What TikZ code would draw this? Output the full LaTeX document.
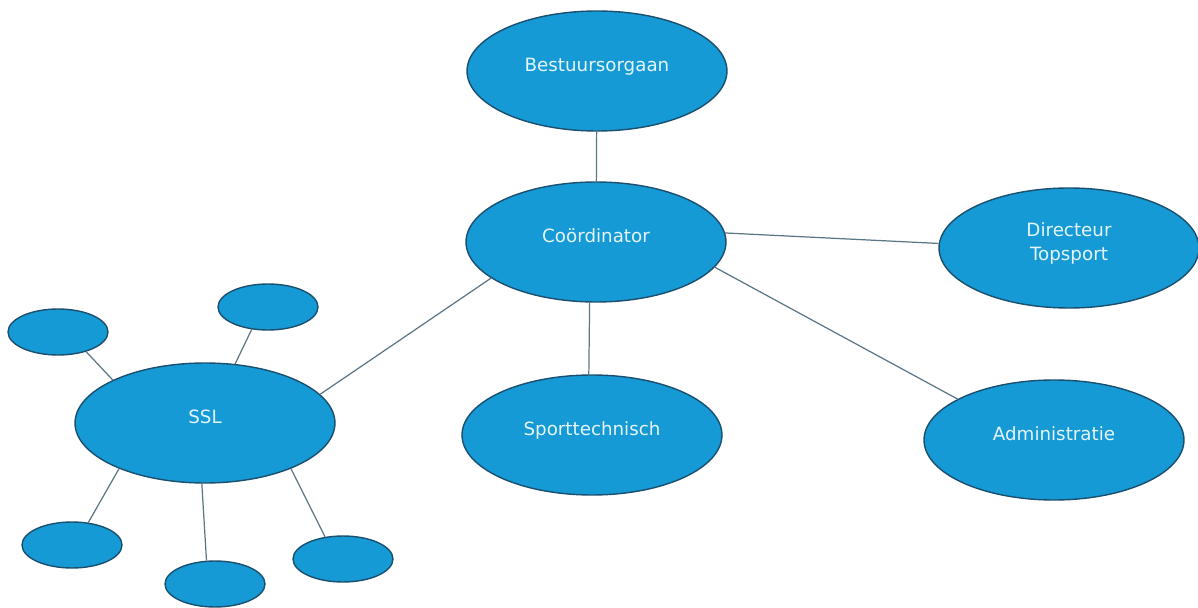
\documentclass[tikz,border=0pt]{standalone}
\usepackage{fontspec}
\setmainfont{DejaVu Sans}
\usetikzlibrary{shapes.geometric}

\definecolor{bubble}{HTML}{169AD6}
\definecolor{rim}{HTML}{1B4F6E}
\definecolor{wire}{HTML}{5A7686}
\definecolor{lettering}{HTML}{E4F5FC}
\newcommand{\bubbletext}[1]{\smash{\begin{tabular}{@{}c@{}}#1\end{tabular}}}

\begin{document}
\begin{tikzpicture}[
x=0.02cm, y=-0.02cm,
bignode/.style={ellipse, draw=rim, line width=0.8pt, fill=bubble, text=lettering, inner sep=0pt, minimum width=5.2cm, minimum height=2.4cm, font=\fontsize{10.4}{14}\selectfont},
smallnode/.style={ellipse, draw=rim, line width=0.8pt, fill=bubble, inner sep=0pt, minimum width=2cm, minimum height=0.92cm},
link/.style={draw=wire, line width=0.7pt},
]
\useasboundingbox (0,0) rectangle (1198,608);

%Nodes
\node[bignode]      (bestuur)   at (597,71)   {\bubbletext{Bestuursorgaan}};
\node[bignode]      (coord)     at (596,242)  {\bubbletext{Coördinator}};
\node[bignode]      (directeur) at (1069,248) {\bubbletext{Directeur\\Topsport}};
\node[bignode]      (admin)     at (1054,440) {\bubbletext{Administratie}};
\node[bignode]      (sport)     at (592,435)  {\bubbletext{Sporttechnisch}};
\node[bignode]      (ssl)       at (205,423)  {\bubbletext{SSL}};

\node[smallnode]    (s1)        at (58,332)   {};
\node[smallnode]    (s2)        at (268,307)  {};
\node[smallnode]    (s3)        at (72,545)   {};
\node[smallnode]    (s4)        at (215,584)  {};
\node[smallnode]    (s5)        at (343,559)  {};

%Lines
\draw[link] (bestuur) -- (coord);
\draw[link] (coord.4) -- (directeur.178);
\draw[link] (coord.-12) -- (admin.157);
\draw[link] (coord.-96) -- (sport.93);
\draw[link] (coord.-161) -- (ssl.14);

\draw[link] (ssl.155) -- (s1.-35);
\draw[link] (ssl.63) -- (s2.-126);
\draw[link] (ssl.-152) -- (s3.54);
\draw[link] (ssl.-93) -- (s4.110);
\draw[link] (ssl.-28) -- (s5.129);
\end{tikzpicture}
\end{document}
